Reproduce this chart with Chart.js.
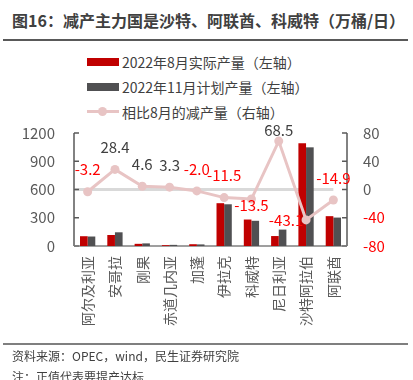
<!DOCTYPE html>
<html>
<head>
<meta charset="utf-8">
<script src="https://cdn.jsdelivr.net/npm/chart.js@4.4.1/dist/chart.umd.min.js"></script>
<style>
  body{margin:0;width:413px;height:380px;position:relative;background:#fff;overflow:hidden;font-family:"Noto Sans CJK SC","Noto Sans",sans-serif;}
  .abs{position:absolute;}
  #title{left:12px;top:9px;font-weight:bold;font-size:16px;line-height:22px;color:#404040;white-space:nowrap;}
  .lg{left:122px;font-size:14px;line-height:20px;color:#404040;white-space:nowrap;}
  .src{left:12px;font-size:12px;line-height:18px;color:#404040;white-space:nowrap;}
  canvas{position:absolute;left:0;top:0;}
</style>
</head>
<body>
<div id="title" class="abs">图16：减产主力国是沙特、阿联酋、科威特（万桶/日）</div>
<div class="abs" style="left:3px;top:39px;width:405px;height:2px;background:#595959"></div>

<div class="abs" style="left:87px;top:58px;width:32px;height:8px;background:#C00000"></div>
<div class="abs lg" style="top:52px">2022年8月实际产量（左轴）</div>
<div class="abs" style="left:87px;top:83px;width:32px;height:8px;background:#505052"></div>
<div class="abs lg" style="top:77px">2022年11月计划产量（左轴）</div>
<div class="abs" style="left:87px;top:110px;width:32px;height:3px;background:#E8C4C4"></div>
<div class="abs" style="left:98px;top:107px;width:9px;height:9px;border-radius:50%;background:#E8C4C4"></div>
<div class="abs lg" style="top:102px">相比8月的减产量（右轴）</div>

<canvas id="c" width="413" height="380"></canvas>

<div class="abs" style="left:3px;top:343px;width:405px;height:1.5px;background:#7F7F7F"></div>
<div class="abs src" style="top:347px">资料来源：OPEC，wind，民生证券研究院</div>
<div class="abs src" style="top:368px">注：正值代表要提产达标</div>

<script>
const categories = ['阿尔及利亚','安哥拉','刚果','赤道几内亚','加蓬','伊拉克','科威特','尼日利亚','沙特阿拉伯','阿联酋'];
const augActual = [103.9, 117.1, 23.1, 8.7, 18.9, 454.6, 281.1, 105.7, 1090.9, 316.8];
const novPlan   = [100.7, 145.5, 27.7, 12.0, 16.9, 443.1, 267.6, 174.2, 1047.8, 301.9];
const cutVsAug  = [-3.2, 28.4, 4.6, 3.3, -2.0, -11.5, -13.5, 68.5, -43.1, -14.9];
const leftTicks  = [0, 300, 600, 900, 1200];
const rightTicks = [-80, -40, 0, 40, 80];

const FONT = '"Noto Sans CJK SC","Noto Sans",sans-serif';
// label placement per point (style only)
const labelOffsets = {6:{dx:0,dy:6}, 7:{dx:0,dy:-11}, 8:{dx:-20,dy:0}};

const deco = {
  id:'deco',
  beforeDatasetsDraw(chart){
    const {ctx, chartArea:a, scales:{x, y, y1}} = chart;
    ctx.save();
    const y0 = y1.getPixelForValue(0);
    ctx.strokeStyle = '#D9D9D9'; ctx.lineWidth = 3;
    ctx.beginPath(); ctx.moveTo(a.left+1, y0); ctx.lineTo(x.getPixelForValue(categories.length-1), y0); ctx.stroke();
    ctx.strokeStyle = '#595959'; ctx.lineWidth = 1.5;
    ctx.beginPath(); ctx.moveTo(a.left, a.top); ctx.lineTo(a.left, a.bottom); ctx.stroke();
    leftTicks.forEach(v=>{const py=y.getPixelForValue(v); ctx.beginPath(); ctx.moveTo(a.left,py); ctx.lineTo(a.left+5,py); ctx.stroke();});
    ctx.beginPath(); ctx.moveTo(a.right, a.top); ctx.lineTo(a.right, a.bottom); ctx.stroke();
    rightTicks.forEach(v=>{const py=y1.getPixelForValue(v); ctx.beginPath(); ctx.moveTo(a.right,py); ctx.lineTo(a.right-5,py); ctx.stroke();});
    ctx.strokeStyle = '#7F7F7F';
    ctx.beginPath(); ctx.moveTo(a.left, a.bottom); ctx.lineTo(a.right, a.bottom); ctx.stroke();
    ctx.restore();
  },
  afterDatasetsDraw(chart){
    const {ctx} = chart;
    const meta = chart.getDatasetMeta(2);
    ctx.save();
    ctx.font = '15px ' + FONT;
    ctx.textAlign = 'center'; ctx.textBaseline = 'middle';
    meta.data.forEach((pt, i)=>{
      const v = cutVsAug[i];
      const o = labelOffsets[i] || {dx:0, dy:-22};
      ctx.fillStyle = v < 0 ? '#FF0000' : '#404040';
      ctx.fillText(v.toFixed(1), pt.x + o.dx, pt.y + o.dy);
    });
    ctx.restore();
  }
};

new Chart(document.getElementById('c'), {
  data: {
    labels: categories,
    datasets: [
      {type:'bar', label:'2022年8月实际产量（左轴）', data:augActual, backgroundColor:'#C00000', yAxisID:'y', order:2,
       categoryPercentage:0.56, barPercentage:1.0},
      {type:'bar', label:'2022年11月计划产量（左轴）', data:novPlan, backgroundColor:'#505052', yAxisID:'y', order:2,
       categoryPercentage:0.56, barPercentage:1.0},
      {type:'line', label:'相比8月的减产量（右轴）', data:cutVsAug, yAxisID:'y1', order:0,
       borderColor:'#E8C4C4', backgroundColor:'#E8C4C4', borderWidth:3, pointRadius:4.5, pointBackgroundColor:'#E8C4C4',
       pointBorderWidth:0, tension:0}
    ]
  },
  options: {
    responsive:false, animation:false, devicePixelRatio:1,
    layout:{padding:{top:133, left:0, right:0, bottom:0}},
    plugins:{legend:{display:false}, tooltip:{enabled:false}, title:{display:false}},
    scales:{
      x:{
        grid:{display:false, drawTicks:false}, border:{display:false},
        ticks:{autoSkip:false, minRotation:90, maxRotation:90, padding:10, color:'#595959', font:{size:14, family:FONT}},
        afterFit(s){ s.height = 134; }
      },
      y:{
        position:'left', min:0, max:1200,
        grid:{display:false, drawTicks:false}, border:{display:false},
        ticks:{stepSize:300, padding:19, color:'#595959', font:{size:15, family:FONT}, callback:(v)=>String(v)},
        afterFit(s){ s.width = 74; }
      },
      y1:{
        position:'right', min:-80, max:80,
        grid:{display:false, drawTicks:false}, border:{display:false},
        ticks:{stepSize:40, padding:16, color:(c)=> c.tick && c.tick.value < 0 ? '#FF0000' : '#595959', font:{size:15, family:FONT}, callback:(v)=>String(v)},
        afterFit(s){ s.width = 66; }
      }
    }
  },
  plugins:[deco]
});
</script>
</body>
</html>
